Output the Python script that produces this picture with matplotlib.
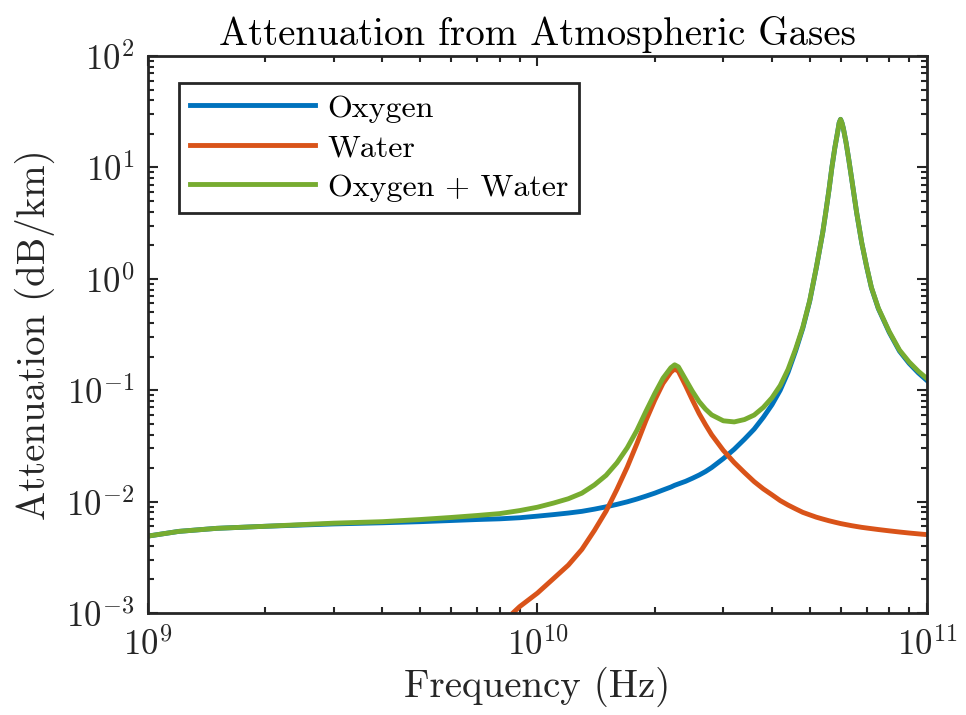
import numpy as np
import matplotlib
matplotlib.use('Agg')
import matplotlib.pyplot as plt
from matplotlib.ticker import LogLocator, FuncFormatter, NullFormatter

plt.rcParams['font.family'] = 'serif'
plt.rcParams['font.serif'] = ['cmr10']
plt.rcParams['mathtext.fontset'] = 'cm'
plt.rcParams['axes.formatter.use_mathtext'] = True

# frequency grid in GHz and attenuation in dB/km
freq_ghz = [1, 1.2, 1.5, 2, 3, 4, 5, 6, 7, 8, 9, 10, 11, 12, 13, 14, 15, 16,
            17, 18, 19, 20, 21, 22, 22.5, 23, 24, 25, 26, 27, 28, 30, 32, 34,
            36, 38, 40, 42, 44, 46, 48, 50, 52, 54, 55, 56, 57, 58, 59, 59.5,
            60, 60.5, 61, 62, 63, 64, 66, 68, 70, 72, 75, 80, 85, 90, 95, 100]

oxygen = [0.0049, 0.0054, 0.00575, 0.0060, 0.0063, 0.00645, 0.0066, 0.00676,
          0.0069, 0.0070, 0.00716, 0.0074, 0.00764, 0.00789, 0.00817, 0.00855,
          0.00897, 0.00944, 0.00995, 0.01054, 0.0112, 0.0119, 0.0127, 0.0135,
          0.0140, 0.0144, 0.0152, 0.0162, 0.0173, 0.0186, 0.0202, 0.0243,
          0.0295, 0.0363, 0.0447, 0.057, 0.074, 0.100, 0.145, 0.225, 0.360,
          0.63, 1.26, 2.6, 4.0, 6.2, 10.0, 15.0, 21.0, 25.1,
          27.0, 25.1, 22.4, 16.6, 11.7, 8.1, 3.9, 2.1, 1.28, 0.83, 0.54,
          0.33, 0.224, 0.174, 0.143, 0.122]

water_ghz = [8.7, 9, 10, 11, 12, 13, 14, 15, 16, 17, 18, 19, 20, 21, 22,
             22.5, 23, 24, 25, 26, 27, 28, 30, 32, 34, 36, 38, 40, 42, 44,
             46, 48, 50, 52, 54, 56, 58, 60, 62, 64, 66, 68, 70, 75, 80, 85,
             90, 95, 100]

water = [0.00102, 0.00114, 0.00151, 0.00204, 0.00269, 0.00372, 0.0055,
         0.0082, 0.0129, 0.0204, 0.0331, 0.0537, 0.0813, 0.115, 0.145,
         0.155, 0.148, 0.110, 0.0813, 0.0617, 0.049, 0.0398, 0.0288, 0.0224,
         0.0182, 0.0151, 0.0130, 0.0115, 0.0102, 0.0093, 0.0086, 0.0080,
         0.0076, 0.00724, 0.00697, 0.00673, 0.00653, 0.00635, 0.00621,
         0.00608, 0.00597, 0.00587, 0.00579, 0.00561, 0.00546, 0.00533,
         0.00522, 0.00513, 0.00505]

total = [0.0049, 0.0054, 0.00575, 0.0060, 0.0064, 0.0066, 0.0069, 0.0072,
         0.0075, 0.0078, 0.0083, 0.0089, 0.0097, 0.0106, 0.0119, 0.0141,
         0.0172, 0.0223, 0.0304, 0.0436, 0.0649, 0.0932, 0.128, 0.159,
         0.169, 0.162, 0.125, 0.0975, 0.079, 0.0676, 0.060, 0.0531,
         0.0519, 0.0545, 0.0598, 0.070, 0.0855, 0.110, 0.154, 0.234, 0.368,
         0.638, 1.27, 2.61, 4.0, 6.2, 10.0, 15.0, 21.0, 25.1,
         27.0, 25.1, 22.4, 16.6, 11.7, 8.1, 3.91, 2.11, 1.29, 0.836, 0.546,
         0.336, 0.229, 0.179, 0.148, 0.127]

f = np.array(freq_ghz) * 1e9
fw = np.array(water_ghz) * 1e9

fig = plt.figure(figsize=(9.66, 7.15), dpi=100)
ax = fig.add_axes([0.1532, 0.1427, 0.8064, 0.779])

ax.loglog(f, oxygen, color='#0072BD', lw=3.5, label='Oxygen')
ax.loglog(fw, water, color='#D95319', lw=3.5, label='Water')
ax.loglog(f, total, color='#77AC30', lw=3.5, label='Oxygen + Water')

ax.set_xlim(1e9, 1e11)
ax.set_ylim(1e-3, 1e2)

dark = '#262626'
fmt = FuncFormatter(lambda v, p: r'$10^{%d}$' % round(np.log10(v)))
ax.xaxis.set_major_locator(LogLocator(base=10, numticks=10))
ax.yaxis.set_major_locator(LogLocator(base=10, numticks=10))
ax.xaxis.set_major_formatter(fmt)
ax.yaxis.set_major_formatter(fmt)
ax.xaxis.set_minor_locator(LogLocator(base=10, subs=np.arange(2, 10), numticks=20))
ax.yaxis.set_minor_locator(LogLocator(base=10, subs=np.arange(2, 10), numticks=20))
ax.xaxis.set_minor_formatter(NullFormatter())
ax.yaxis.set_minor_formatter(NullFormatter())
ax.tick_params(which='both', direction='in', top=True, right=True,
               color=dark, labelcolor=dark, width=1.5)
ax.tick_params(which='major', length=7.5, labelsize=25, pad=10)
ax.tick_params(which='minor', length=4)
for s in ax.spines.values():
    s.set_linewidth(2)
    s.set_color(dark)

ax.set_xlabel('Frequency (Hz)', fontsize=28, color=dark, labelpad=4)
ax.set_ylabel('Attenuation (dB/km)', fontsize=28, color=dark, labelpad=8)
ax.set_title('Attenuation from Atmospheric Gases', fontsize=28, color='black', pad=8)

leg = ax.legend(loc='upper left', bbox_to_anchor=(0.04, 0.9515), borderaxespad=0,
                fontsize=23, handlelength=3.9, fancybox=False, framealpha=1,
                edgecolor='#262626', labelspacing=0.35, borderpad=0.35,
                handletextpad=0.4)
leg.get_frame().set_linewidth(2)

fig.savefig('out.png', dpi=100)
